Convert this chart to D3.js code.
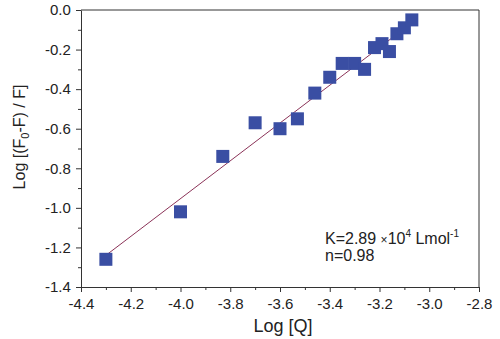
<!DOCTYPE html>
<html>
<head>
<meta charset="utf-8">
<script src="https://cdn.jsdelivr.net/npm/d3@7"></script>
<style>
  body { margin: 0; background: #fff; }
  text { font-family: "Liberation Sans", Arial, sans-serif; fill: #222; }
</style>
</head>
<body>
<div id="chart"></div>
<script>
const width = 500;
const height = 339;
const margin = {top: 10, right: 21, bottom: 52, left: 81};

// data
const logQ = [-4.30, -4.00, -3.83, -3.70, -3.60, -3.53, -3.46, -3.40, -3.35, -3.30, -3.26, -3.22, -3.19, -3.16, -3.13, -3.10, -3.07];
const logF = [-1.26, -1.02, -0.74, -0.57, -0.60, -0.55, -0.42, -0.34, -0.27, -0.27, -0.30, -0.19, -0.17, -0.21, -0.12, -0.09, -0.05];
const fitX = [-4.30, -3.07];
const fitY = [-1.24, -0.065];
const xTicks = [-4.4, -4.2, -4.0, -3.8, -3.6, -3.4, -3.2, -3.0, -2.8];
const yTicks = [0.0, -0.2, -0.4, -0.6, -0.8, -1.0, -1.2, -1.4];

const svg = d3.select("#chart").append("svg")
    .attr("width", width)
    .attr("height", height);

const x = d3.scaleLinear().domain([-4.4, -2.8]).range([margin.left, width - margin.right]);
const y = d3.scaleLinear().domain([-1.4, 0.0]).range([height - margin.bottom, margin.top]);

// minor ticks halfway between majors
const xMinor = d3.range(-4.3, -2.8, 0.2);
const yMinor = d3.range(-0.1, -1.4, -0.2);

const fmt = d => d3.format(".1f")(d).replace("−", "-");

const xAxis = svg.append("g")
    .attr("transform", "translate(0," + (height - margin.bottom) + ")")
    .call(d3.axisBottom(x).tickValues(xTicks).tickSize(5).tickSizeOuter(0).tickFormat(fmt));
svg.append("g")
    .attr("transform", "translate(0," + (height - margin.bottom) + ")")
    .call(d3.axisBottom(x).tickValues(xMinor).tickSize(3).tickSizeOuter(0).tickFormat(""))
    .select(".domain").remove();

const yAxis = svg.append("g")
    .attr("transform", "translate(" + margin.left + ",0)")
    .call(d3.axisLeft(y).tickValues(yTicks).tickSize(5).tickSizeOuter(0).tickFormat(fmt));
svg.append("g")
    .attr("transform", "translate(" + margin.left + ",0)")
    .call(d3.axisLeft(y).tickValues(yMinor).tickSize(3).tickSizeOuter(0).tickFormat(""))
    .select(".domain").remove();

svg.selectAll(".tick line").attr("stroke", "#333");
svg.selectAll(".domain").attr("stroke", "#333");
xAxis.selectAll("text").attr("font-size", 15).attr("dy", "0.95em");
yAxis.selectAll("text").attr("font-size", 15).attr("dx", "-0.15em");

// top and right frame
svg.append("line")
    .attr("x1", x(-4.4)).attr("x2", x(-2.8)).attr("y1", y(0)).attr("y2", y(0))
    .attr("stroke", "#333");
svg.append("line")
    .attr("x1", x(-2.8)).attr("x2", x(-2.8)).attr("y1", y(0)).attr("y2", y(-1.4))
    .attr("stroke", "#333");

// fit line
svg.append("line")
    .attr("x1", x(fitX[0])).attr("y1", y(fitY[0]))
    .attr("x2", x(fitX[1])).attr("y2", y(fitY[1]))
    .attr("stroke", "#8b3358")
    .attr("stroke-width", 1);

// points
const s = 13;
svg.selectAll("rect.pt").data(logQ).enter().append("rect")
    .attr("class", "pt")
    .attr("x", (d, i) => x(d) - s / 2)
    .attr("y", (d, i) => y(logF[i]) - s / 2)
    .attr("width", s).attr("height", s)
    .attr("fill", "#3a4ea3");

// axis titles
svg.append("text")
    .attr("x", 283).attr("y", 332)
    .attr("text-anchor", "middle")
    .attr("font-size", 18)
    .text("Log [Q]");

const yt = svg.append("text")
    .attr("transform", "translate(25,137) rotate(-90)")
    .attr("text-anchor", "middle")
    .attr("font-size", 16);
yt.append("tspan").text("Log [(F");
yt.append("tspan").attr("font-size", 11).attr("dy", 4).text("0");
yt.append("tspan").attr("dy", -4).text("-F) / F]");

// annotation
const k = svg.append("text").attr("x", 325).attr("y", 244).attr("font-size", 16);
k.append("tspan").text("K=2.89 ");
k.append("tspan").attr("font-size", 12).text("×");
k.append("tspan").text("10");
k.append("tspan").attr("font-size", 10).attr("dy", -7).text("4");
k.append("tspan").attr("dy", 7).text(" Lmol");
k.append("tspan").attr("font-size", 10).attr("dy", -7).text("-1");
svg.append("text").attr("x", 325).attr("y", 261).attr("font-size", 16).text("n=0.98");
</script>
</body>
</html>
